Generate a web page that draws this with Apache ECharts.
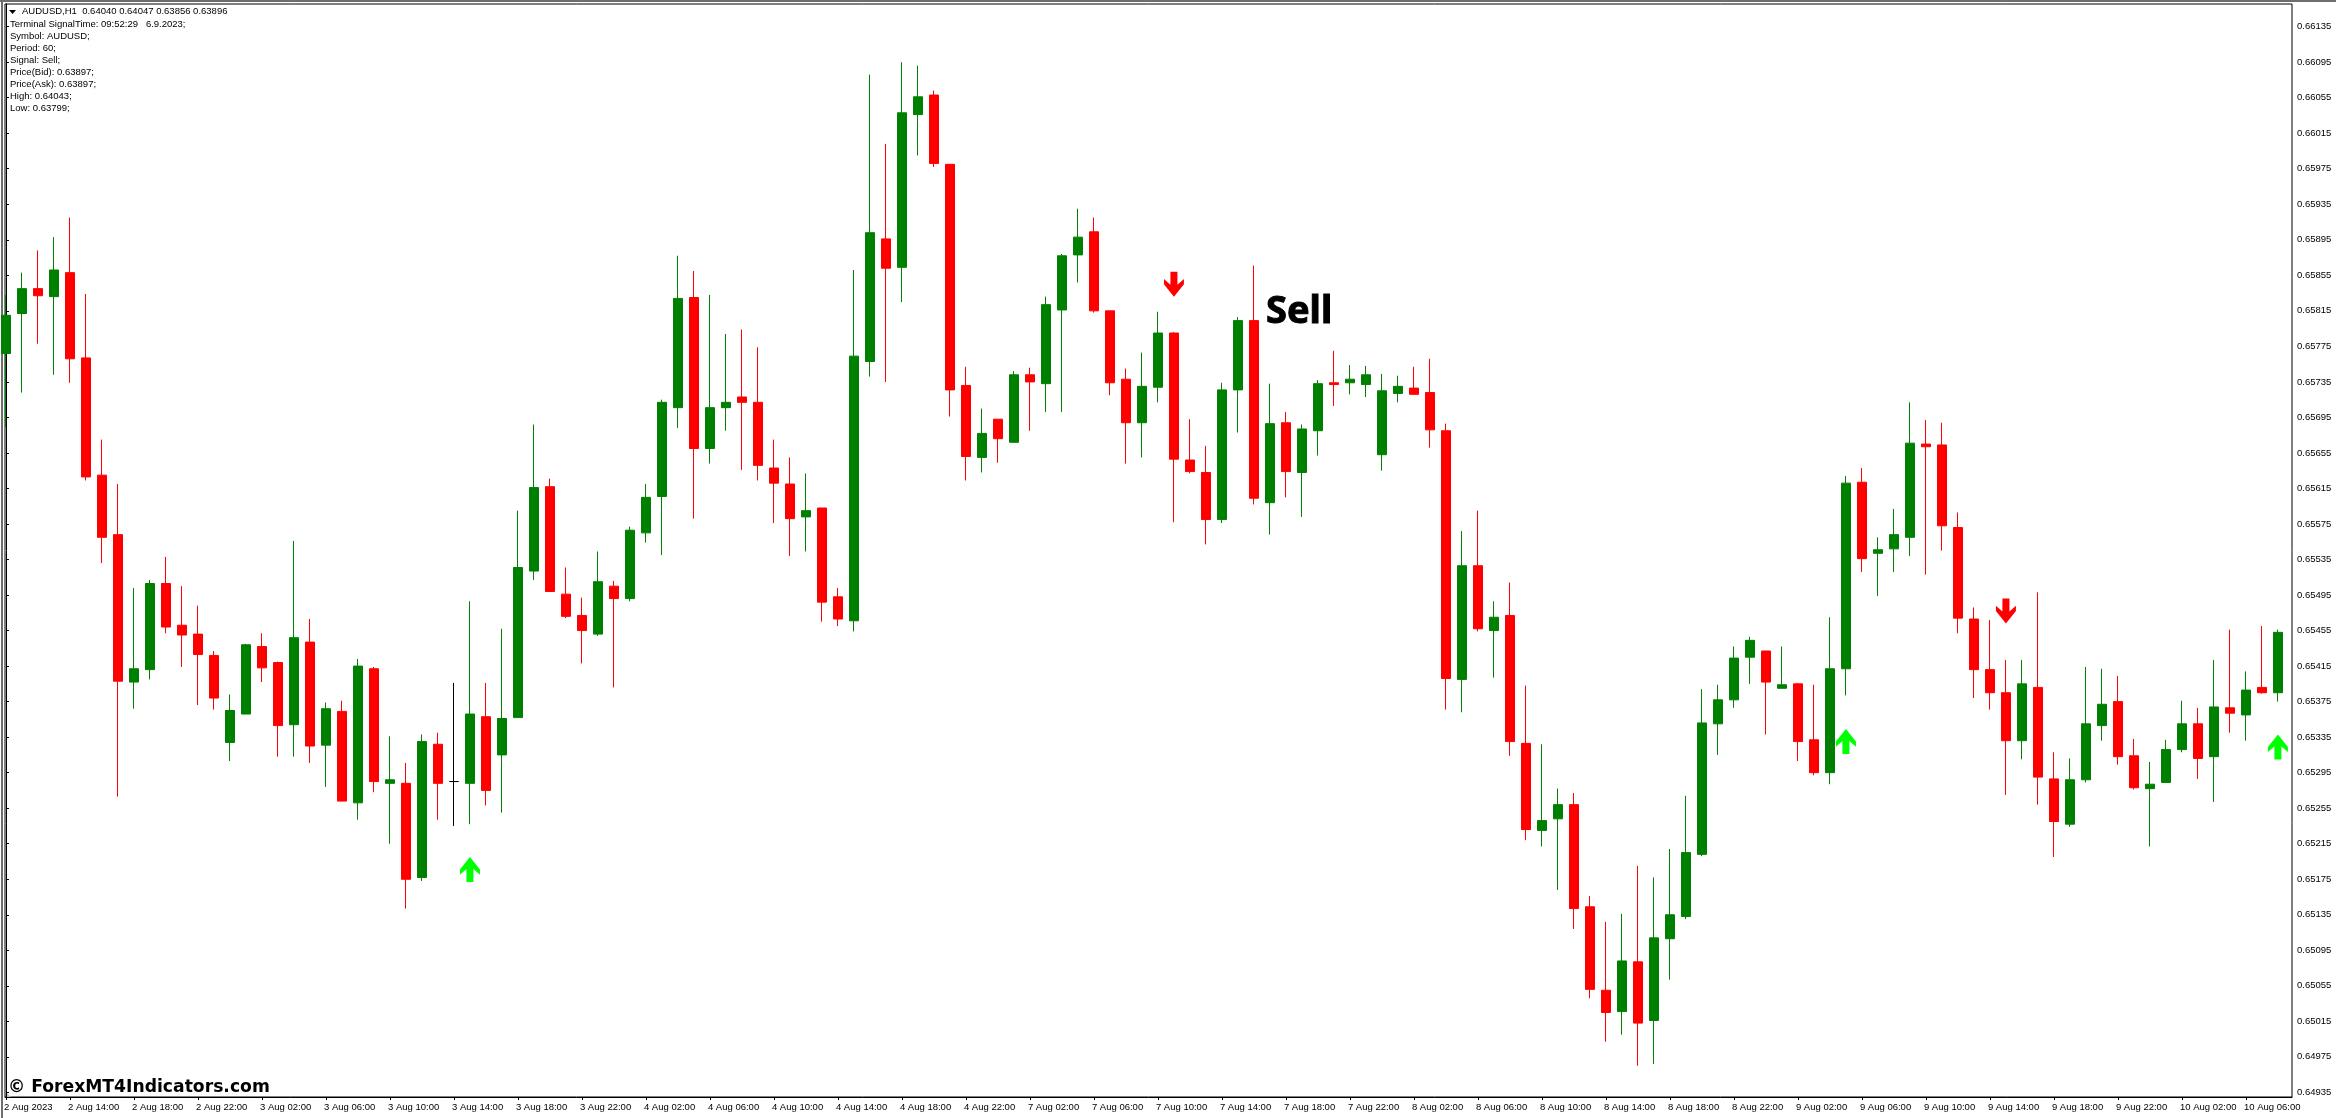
<!DOCTYPE html>
<html>
<head>
<meta charset="utf-8">
<title>AUDUSD,H1</title>
<script src="https://cdn.jsdelivr.net/npm/echarts@6/dist/echarts.min.js"></script>
<style>
  html, body { margin: 0; padding: 0; background: #fff; }
  #chart { width: 2336px; height: 1118px; }
</style>
</head>
<body>
<div id="chart"></div>
<script>
// H1 bars
const opens = [
  0.65767,0.65812,0.65840,0.65831,0.65858,0.65762,0.65630,0.65563,0.65397,0.65411,
  0.65508,0.65461,0.65451,0.65427,0.65329,0.65361,0.65437,0.65419,0.65349,0.65442,
  0.65326,0.65364,0.65261,0.65412,0.65283,0.65283,0.65177,0.65327,0.65285,0.65283,
  0.65358,0.65315,0.65357,0.65522,0.65617,0.65496,0.65472,0.65451,0.65505,0.65491,
  0.65565,0.65606,0.65706,0.65830,0.65660,0.65706,0.65718,0.65712,0.65638,0.65620,
  0.65583,0.65593,0.65493,0.65466,0.65758,0.65896,0.65864,0.66036,0.66058,0.65980,
  0.65731,0.65650,0.65693,0.65667,0.65743,0.65733,0.65816,0.65878,0.65904,0.65815,
  0.65738,0.65689,0.65729,0.65790,0.65647,0.65633,0.65580,0.65726,0.65804,0.65599,
  0.65689,0.65633,0.65680,0.65734,0.65734,0.65732,0.65653,0.65722,0.65728,0.65723,
  0.65680,0.65400,0.65528,0.65455,0.65472,0.65328,0.65230,0.65243,0.65259,0.65144,
  0.65050,0.65026,0.65082,0.65016,0.65108,0.65133,0.65203,0.65350,0.65377,0.65425,
  0.65432,0.65390,0.65395,0.65332,0.65295,0.65412,0.65622,0.65542,0.65547,0.65560,
  0.65665,0.65664,0.65571,0.65468,0.65411,0.65385,0.65331,0.65391,0.65288,0.65237,
  0.65287,0.65348,0.65375,0.65314,0.65277,0.65284,0.65321,0.65350,0.65313,0.65368,
  0.65360,0.65391,0.65385
];
const closes = [
  0.65810,0.65840,0.65832,0.65861,0.65761,0.65628,0.65560,0.65398,0.65412,0.65508,
  0.65459,0.65450,0.65428,0.65379,0.65365,0.65439,0.65413,0.65348,0.65447,0.65325,
  0.65367,0.65263,0.65415,0.65285,0.65287,0.65175,0.65330,0.65283,0.65285,0.65361,
  0.65275,0.65356,0.65526,0.65616,0.65499,0.65471,0.65455,0.65510,0.65491,0.65568,
  0.65605,0.65712,0.65829,0.65660,0.65706,0.65712,0.65712,0.65641,0.65621,0.65581,
  0.65590,0.65487,0.65468,0.65764,0.65903,0.65863,0.66038,0.66056,0.65981,0.65726,
  0.65651,0.65677,0.65671,0.65743,0.65735,0.65822,0.65877,0.65898,0.65815,0.65734,
  0.65689,0.65730,0.65790,0.65648,0.65634,0.65580,0.65726,0.65804,0.65604,0.65688,
  0.65634,0.65682,0.65733,0.65732,0.65738,0.65743,0.65725,0.65730,0.65721,0.65681,
  0.65401,0.65528,0.65457,0.65470,0.65330,0.65231,0.65241,0.65259,0.65142,0.65051,
  0.65025,0.65083,0.65013,0.65109,0.65135,0.65205,0.65351,0.65377,0.65424,0.65444,
  0.65397,0.65394,0.65330,0.65295,0.65412,0.65621,0.65536,0.65546,0.65563,0.65666,
  0.65662,0.65573,0.65469,0.65411,0.65385,0.65331,0.65395,0.65290,0.65240,0.65287,
  0.65350,0.65372,0.65313,0.65278,0.65282,0.65321,0.65350,0.65311,0.65369,0.65362,
  0.65388,0.65385,0.65453
];
const lows = [
  0.65684,0.65723,0.65778,0.65743,0.65734,0.65624,0.65531,0.65268,0.65367,0.65400,
  0.65452,0.65414,0.65371,0.65366,0.65308,0.65361,0.65397,0.65313,0.65313,0.65306,
  0.65279,0.65263,0.65242,0.65273,0.65215,0.65142,0.65173,0.65242,0.65235,0.65237,
  0.65258,0.65250,0.65357,0.65512,0.65499,0.65469,0.65418,0.65449,0.65391,0.65488,
  0.65554,0.65540,0.65683,0.65581,0.65643,0.65680,0.65636,0.65624,0.65576,0.65539,
  0.65544,0.65465,0.65460,0.65454,0.65741,0.65735,0.65825,0.65990,0.65977,0.65696,
  0.65624,0.65633,0.65644,0.65667,0.65680,0.65701,0.65701,0.65847,0.65813,0.65720,
  0.65643,0.65650,0.65712,0.65577,0.65632,0.65552,0.65576,0.65678,0.65597,0.65563,
  0.65605,0.65583,0.65652,0.65708,0.65721,0.65718,0.65635,0.65712,0.65721,0.65661,
  0.65366,0.65363,0.65454,0.65402,0.65314,0.65219,0.65212,0.65163,0.65119,0.65041,
  0.64992,0.65000,0.64965,0.64967,0.65062,0.65130,0.65201,0.65315,0.65368,0.65395,
  0.65338,0.65390,0.65308,0.65292,0.65282,0.65382,0.65521,0.65494,0.65521,0.65539,
  0.65518,0.65545,0.65452,0.65379,0.65366,0.65270,0.65310,0.65259,0.65200,0.65234,
  0.65284,0.65331,0.65304,0.65276,0.65212,0.65284,0.65318,0.65288,0.65262,0.65340,
  0.65331,0.65384,0.65375
];
const highs = [
  0.65833,0.65858,0.65883,0.65898,0.65920,0.65834,0.65670,0.65620,0.65503,0.65512,
  0.65538,0.65505,0.65483,0.65432,0.65383,0.65440,0.65452,0.65420,0.65556,0.65468,
  0.65374,0.65376,0.65423,0.65414,0.65336,0.65306,0.65338,0.65340,0.65396,0.65488,
  0.65396,0.65457,0.65590,0.65687,0.65626,0.65526,0.65492,0.65544,0.65511,0.65572,
  0.65620,0.65715,0.65877,0.65860,0.65833,0.65789,0.65794,0.65774,0.65670,0.65650,
  0.65632,0.65593,0.65503,0.65861,0.66081,0.66003,0.66095,0.66091,0.66063,0.65980,
  0.65752,0.65705,0.65693,0.65747,0.65751,0.65831,0.65879,0.65930,0.65920,0.65815,
  0.65750,0.65768,0.65814,0.65791,0.65693,0.65663,0.65734,0.65808,0.65866,0.65733,
  0.65701,0.65687,0.65737,0.65770,0.65754,0.65753,0.65744,0.65742,0.65752,0.65761,
  0.65688,0.65567,0.65590,0.65488,0.65509,0.65393,0.65327,0.65277,0.65272,0.65156,
  0.65127,0.65136,0.65190,0.65177,0.65209,0.65269,0.65389,0.65394,0.65437,0.65448,
  0.65432,0.65437,0.65396,0.65394,0.65470,0.65629,0.65638,0.65560,0.65592,0.65712,
  0.65692,0.65689,0.65588,0.65481,0.65467,0.65422,0.65422,0.65498,0.65318,0.65311,
  0.65414,0.65412,0.65404,0.65333,0.65307,0.65332,0.65376,0.65368,0.65422,0.65456,
  0.65409,0.65460,0.65456
];

// one label every 4 bars, starting at bar 0
const timeLabels = [
  '2 Aug 2023','2 Aug 14:00','2 Aug 18:00','2 Aug 22:00',
  '3 Aug 02:00','3 Aug 06:00','3 Aug 10:00','3 Aug 14:00','3 Aug 18:00','3 Aug 22:00',
  '4 Aug 02:00','4 Aug 06:00','4 Aug 10:00','4 Aug 14:00','4 Aug 18:00','4 Aug 22:00',
  '7 Aug 02:00','7 Aug 06:00','7 Aug 10:00','7 Aug 14:00','7 Aug 18:00','7 Aug 22:00',
  '8 Aug 02:00','8 Aug 06:00','8 Aug 10:00','8 Aug 14:00','8 Aug 18:00','8 Aug 22:00',
  '9 Aug 02:00','9 Aug 06:00','9 Aug 10:00','9 Aug 14:00','9 Aug 18:00','9 Aug 22:00',
  '10 Aug 02:00','10 Aug 06:00'
];
const priceLabels = [
  0.66135,0.66095,0.66055,0.66015,0.65975,0.65935,0.65895,0.65855,0.65815,0.65775,
  0.65735,0.65695,0.65655,0.65615,0.65575,0.65535,0.65495,0.65455,0.65415,0.65375,
  0.65335,0.65295,0.65255,0.65215,0.65175,0.65135,0.65095,0.65055,0.65015,0.64975,
  0.64935
];

// signal arrows: [bar, price]
const upArrows = [[29, 0.65186], [115, 0.65330], [142, 0.65324]];
const downArrows = [[73, 0.65845], [125, 0.65477]];
const sellLabel = [[78.75, 0.65814]];

const infoLines = [
  'Terminal SignalTime: 09:52:29   6.9.2023;',
  'Symbol: AUDUSD;',
  'Period: 60;',
  'Signal: Sell;',
  'Price(Bid): 0.63897;',
  'Price(Ask): 0.63897;',
  'High: 0.64043;',
  'Low: 0.63799;'
];

const upPath = 'path://M10 0L20 12L20 17L13.5 11.5L13.5 24L6.5 24L6.5 11.5L0 17L0 12Z';
const downPath = 'path://M6.5 0L13.5 0L13.5 12.5L20 7L20 12L10 24L0 12L0 7L6.5 12.5Z';

const font = '"Liberation Sans", Arial, sans-serif';
const bars = opens.map((o, i) => [i, o, closes[i], lows[i], highs[i]]);

const myChart = echarts.init(document.getElementById('chart'));
const option = {
  animation: false,
  backgroundColor: '#fff',
  grid: {
    show: true,
    left: 5,
    top: 4,
    width: 2287,
    height: 1093,
    borderColor: '#000',
    borderWidth: 1,
    backgroundColor: '#fff'
  },
  xAxis: {
    type: 'value',
    min: -0.06,
    max: 142.88,
    splitLine: { show: false },
    axisLine: { lineStyle: { color: '#000', width: 1 } },
    axisTick: {
      length: 3,
      lineStyle: { color: '#000' },
      customValues: timeLabels.map((_, i) => i * 4)
    },
    axisLabel: {
      color: '#000',
      fontFamily: font,
      fontSize: 9.5,
      align: 'left',
      margin: 5,
      padding: [0, 0, 0, -2],
      customValues: timeLabels.map((_, i) => i * 4),
      formatter: (v) => timeLabels[Math.round(v / 4)]
    }
  },
  yAxis: {
    type: 'value',
    position: 'right',
    min: 0.6492980,
    max: 0.6616050,
    splitLine: { show: false },
    axisLine: { show: true, lineStyle: { color: '#000', width: 1 } },
    axisTick: {
      show: true,
      length: 3,
      lineStyle: { color: '#000' },
      customValues: priceLabels
    },
    axisLabel: {
      color: '#000',
      fontFamily: font,
      fontSize: 9.5,
      margin: 5,
      padding: [2, 0, 0, 0],
      customValues: priceLabels,
      formatter: (v) => v.toFixed(5)
    }
  },
  series: [
    {
      type: 'candlestick',
      data: bars,
      barWidth: 10,
      clip: true,
      itemStyle: {
        color: '#008000',
        color0: '#ff0000',
        borderColor: '#008000',
        borderColor0: '#ff0000',
        borderColorDoji: '#000',
        borderWidth: 1
      }
    },
    {
      type: 'scatter',
      data: upArrows,
      symbol: upPath,
      symbolSize: [20, 25],
      itemStyle: { color: '#00ff00', opacity: 1 },
      z: 5
    },
    {
      type: 'scatter',
      data: downArrows,
      symbol: downPath,
      symbolSize: [20, 25],
      itemStyle: { color: '#ff0000', opacity: 1 },
      z: 5
    },
    {
      type: 'scatter',
      data: sellLabel,
      symbolSize: 0,
      z: 6,
      itemStyle: { opacity: 1 },
      label: {
        show: true,
        position: 'right',
        distance: 0,
        formatter: 'Sell',
        color: '#000',
        opacity: 1,
        fontFamily: '"Noto Sans", sans-serif',
        fontWeight: 'bold',
        fontSize: 38,
        textBorderColor: '#000',
        textBorderWidth: 1
      }
    }
  ],
  graphic: [
    // window edge
    { type: 'rect', shape: { x: 0, y: 0, width: 2336, height: 2 }, style: { fill: '#6e6e6e' }, silent: true },
    { type: 'rect', shape: { x: 1, y: 0, width: 2, height: 1118 }, style: { fill: '#6e6e6e' }, silent: true },
    // header
    { type: 'polygon', shape: { points: [[9, 10], [16, 10], [12.5, 14]] }, style: { fill: '#000' }, silent: true },
    {
      type: 'text', x: 22, y: 6,
      style: { text: 'AUDUSD,H1  0.64040 0.64047 0.63856 0.63896', fill: '#000', font: '9.5px ' + font }
    },
    {
      type: 'text', x: 10, y: 18,
      style: { text: infoLines.join('\n'), fill: '#000', font: '9.5px ' + font, lineHeight: 12 }
    },
    // watermark
    { type: 'polygon', shape: { points: [[6, 1097], [11, 1097], [6, 1092]] }, style: { fill: '#c8c8c8' }, silent: true },
    {
      type: 'text', x: 8, y: 1079,
      style: {
        text: '\u00a9 ForexMT4Indicators.com',
        fill: '#000',
        font: 'bold 17.2px "DejaVu Sans", sans-serif',
        textShadowColor: '#bdbdbd',
        textShadowOffsetX: 1,
        textShadowOffsetY: 1
      }
    }
  ]
};
myChart.setOption(option);
</script>
</body>
</html>
